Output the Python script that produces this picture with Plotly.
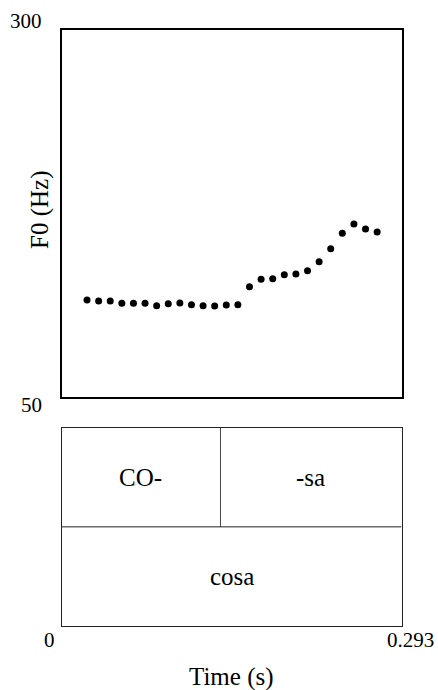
import plotly.graph_objects as go

# F0 track (s, Hz)
time_s = [0.022, 0.032, 0.042, 0.052, 0.062, 0.072, 0.082, 0.092, 0.102, 0.112,
          0.122, 0.132, 0.142, 0.152, 0.162, 0.172, 0.182, 0.192, 0.202, 0.212,
          0.222, 0.232, 0.242, 0.252, 0.262, 0.272]
f0_hz = [116.2, 115.5, 115.5, 113.9, 113.9, 113.9, 112.3, 113.7, 114.1, 113.0,
         112.3, 112.1, 112.8, 113.0, 125.2, 130.3, 130.7, 133.4, 133.9, 136.1,
         142.2, 151.1, 161.5, 167.9, 164.5, 162.4]

# Axis ranges and labels
t_min, t_max = 0, 0.293
f0_min, f0_max = 50, 300
x_tick_labels = ["0", "0.293"]
y_tick_labels = ["50", "300"]
x_title = "Time (s)"
y_title = "F0 (Hz)"

# Annotation tiers (top to bottom): interval labels and boundaries
syllable_labels = ["CO-", "-sa"]
syllable_bounds = [0, 0.137, 0.293]
word_labels = ["cosa"]
word_bounds = [0, 0.293]
tiers = [(syllable_labels, syllable_bounds), (word_labels, word_bounds)]

FONT = "'Times New Roman', 'Liberation Serif', 'DejaVu Serif', serif"
W, H = 438, 690
x_dom = [61.5 / W, 401.5 / W]
y_dom_top = [1 - 397.3 / H, 1 - 29.7 / H]
y_dom_tier = [1 - 626 / H, 1 - 427.7 / H]

fig = go.Figure()
fig.add_trace(go.Scatter(
    x=time_s, y=f0_hz, mode="markers",
    marker=dict(color="black", size=7),
    xaxis="x", yaxis="y", showlegend=False, hoverinfo="x+y",
))

n_tiers = len(tiers)
shapes = []
annotations = []
for i, (labels, bounds) in enumerate(tiers):
    y_hi = n_tiers - i
    y_lo = y_hi - 1
    # separator between tiers
    if i > 0:
        shapes.append(dict(type="line", xref="x2", yref="y2",
                           x0=t_min, x1=t_max, y0=y_hi, y1=y_hi,
                           line=dict(color="#222", width=1)))
    # interval boundaries
    for b in bounds[1:-1]:
        shapes.append(dict(type="line", xref="x2", yref="y2",
                           x0=b, x1=b, y0=y_lo, y1=y_hi,
                           line=dict(color="#444", width=1)))
    for lab, a, b in zip(labels, bounds[:-1], bounds[1:]):
        annotations.append(dict(text=lab, x=(a + b) / 2, y=(y_lo + y_hi) / 2,
                                xref="x2", yref="y2", showarrow=False,
                                font=dict(family=FONT, size=25, color="black"),
                                xanchor="center", yanchor="middle"))

tick_font = dict(family=FONT, size=21, color="black")
# y tick labels at the frame corners
annotations.append(dict(text=y_tick_labels[1], x=0, y=f0_max, xref="x domain", yref="y",
                        showarrow=False, xanchor="right", yanchor="middle",
                        xshift=-18, yshift=9, font=tick_font))
annotations.append(dict(text=y_tick_labels[0], x=0, y=f0_min, xref="x domain", yref="y",
                        showarrow=False, xanchor="right", yanchor="middle",
                        xshift=-18, yshift=-7.5, font=tick_font))
# x tick labels below the tiers
annotations.append(dict(text=x_tick_labels[0], x=t_min, y=0, xref="x2", yref="y2",
                        showarrow=False, xanchor="center", yanchor="middle",
                        xshift=-12, yshift=-13.5, font=tick_font))
annotations.append(dict(text=x_tick_labels[1], x=t_max, y=0, xref="x2", yref="y2",
                        showarrow=False, xanchor="center", yanchor="middle",
                        xshift=8.5, yshift=-13.5, font=tick_font))
# axis titles
annotations.append(dict(text=x_title, x=0.5, y=0, xref="x2 domain", yref="y2",
                        showarrow=False, xanchor="center", yanchor="middle",
                        yshift=-51, font=dict(family=FONT, size=25, color="black")))
annotations.append(dict(text=y_title, x=0, y=0.5, xref="x domain", yref="y domain",
                        showarrow=False, xanchor="center", yanchor="middle",
                        textangle=-90, xshift=-21.5, yshift=3.5,
                        font=dict(family=FONT, size=25, color="black")))

frame_axis = dict(showline=True, mirror=True, linecolor="black", ticks="",
                  showticklabels=False, showgrid=False, zeroline=False, fixedrange=True)

fig.update_layout(
    width=W, height=H,
    margin=dict(l=0, r=0, t=0, b=0),
    paper_bgcolor="white", plot_bgcolor="white",
    showlegend=False,
    xaxis=dict(frame_axis, domain=x_dom, range=[t_min, t_max], anchor="y", linewidth=2),
    yaxis=dict(frame_axis, domain=y_dom_top, range=[f0_min, f0_max], anchor="x", linewidth=2),
    xaxis2=dict(frame_axis, domain=x_dom, range=[t_min, t_max], anchor="y2", linewidth=1.2,
                linecolor="#222"),
    yaxis2=dict(frame_axis, domain=y_dom_tier, range=[0, n_tiers], anchor="x2", linewidth=1.2,
                linecolor="#222"),
    shapes=shapes,
    annotations=annotations,
)

fig.write_html("out.html")
